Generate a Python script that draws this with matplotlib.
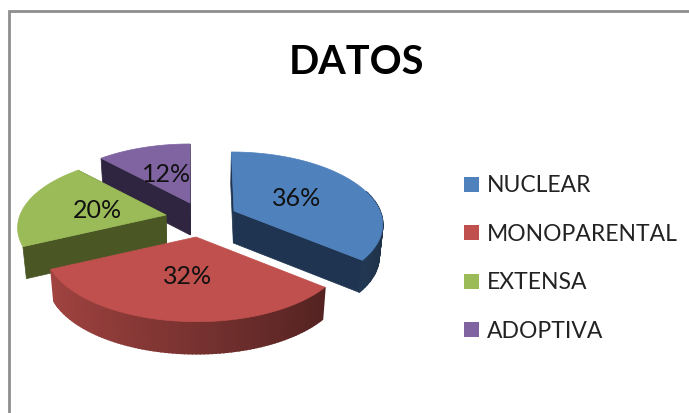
import numpy as np
import matplotlib
matplotlib.use("Agg")
import matplotlib.pyplot as plt
from matplotlib.patches import Patch

title = "DATOS"
categories = ["NUCLEAR", "MONOPARENTAL", "EXTENSA", "ADOPTIVA"]
values = [36, 32, 20, 12]

colors = ["#4f81bd", "#c0504d", "#9bbb59", "#8064a2"]
cut_colors = ["#1e3450", "#4a1a18", "#4a5724", "#2f2540"]
apex_x = [234, 196, 166, 190]
apex_y = [211, 237, 215, 203]
radius_scale = [1.0, 1.02, 1.0, 1.0]
label_x = [297, 188, 97, 167]
label_y = [198, 276, 211, 175]
draw_order = [3, 0, 2, 1]
has_rim = [True, True, False, False]
has_cut = [True, False, True, True]
R, S, K, DEPTH = 146, 69, 0.169, 32

plt.rcParams["font.family"] = ["Lato", "DejaVu Sans"]
fig = plt.figure(figsize=(6.89, 4.13), dpi=100)
ax = fig.add_axes([0, 0, 1, 1])
ax.set_xlim(0, 689)
ax.set_ylim(413, 0)
ax.axis("off")

ax.plot([9, 9, 689], [413, 11, 11], color="#8e8e8e", lw=2, solid_joinstyle="miter")


def project(i, theta):
    u, v = np.sin(theta), np.cos(theta)
    w = 1 + K * v
    skew = (apex_x[i] - 190) * 0.07
    s = radius_scale[i]
    return apex_x[i] + s * (R * u - skew * v) / w, apex_y[i] - s * S * v / w


def lower(x, y):
    return 200 + (np.asarray(x) - 200) * 0.98, np.asarray(y) + DEPTH


edges = np.cumsum([0] + values) / sum(values) * 2 * np.pi
rgb = [np.array(matplotlib.colors.to_rgb(c)) for c in colors]

for i in draw_order:
    z = 2 + draw_order.index(i)
    th = np.linspace(edges[i], edges[i + 1], 90)
    x, y = project(i, th)
    xl, yl = lower(x, y)
    # cut faces
    if has_cut[i]:
        axl, ayl = lower(apex_x[i], apex_y[i])
        for k in (0, -1):
            ax.fill([apex_x[i], x[k], xl[k], axl], [apex_y[i], y[k], yl[k], ayl],
                    color=cut_colors[i], lw=0.5, zorder=z)
    # outer rim, shaded left to right
    if has_rim[i]:
        for j in range(len(th) - 1):
            mid = (th[j] + th[j + 1]) / 2
            if np.cos(mid) > 0.3:
                continue
            shade = 0.62 - 0.24 * np.sin(mid)
            ax.fill([x[j], x[j + 1], xl[j + 1], xl[j]], [y[j], y[j + 1], yl[j + 1], yl[j]],
                    color=rgb[i] * shade, lw=1.2, zorder=z + 0.1)
    # top face
    ax.fill(np.r_[apex_x[i], x], np.r_[apex_y[i], y], color=colors[i], lw=0.5, zorder=z + 0.5)

for v, lx, ly in zip(values, label_x, label_y):
    ax.text(lx, ly, f"{v}%", fontsize=18, color="#111111", ha="center", va="center", zorder=10)

ax.text(357, 63, title, fontsize=28.5, fontweight="bold", color="black", ha="center", va="center")

handles = [Patch(facecolor=c, edgecolor="none") for c in colors]
ax.legend(handles, categories, loc="center left", bbox_to_anchor=(452.5 / 689, 1 - 258.5 / 413),
          frameon=False, fontsize=16.5, handlelength=0.64, handleheight=0.64, handletextpad=0.38,
          labelspacing=1.2, borderpad=0, labelcolor="#222222")

fig.savefig("out.png", dpi=100)
